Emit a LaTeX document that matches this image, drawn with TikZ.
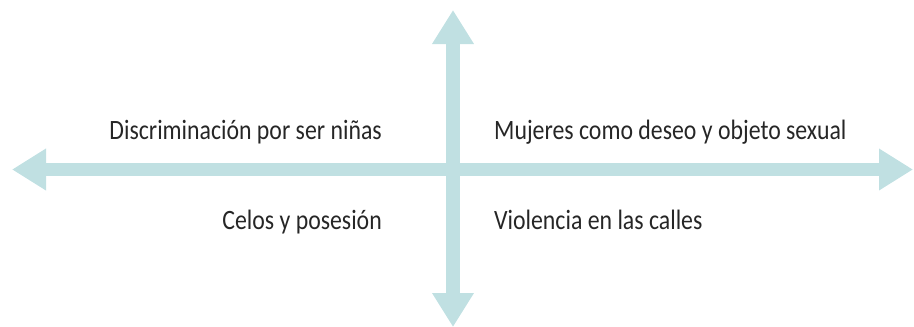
\documentclass[tikz,border=0pt]{standalone}
\usepackage{fontspec}
\setmainfont[FakeStretch=0.85]{Carlito}
\usetikzlibrary{arrows.meta}
\definecolor{axisteal}{RGB}{192,224,226}
\begin{document}
\begin{tikzpicture}[x=1pt, y=-1pt,
        axis/.style={draw=axisteal, line width=13.5pt, {Triangle[length=34pt, width=39.5pt]}-{Triangle[length=34pt, width=39.5pt]}},
        label/.style={font=\fontsize{28}{32}\selectfont, inner sep=0pt, text=black!85}]
        \useasboundingbox (0,0) rectangle (914,327);

        \coordinate (west) at (12,169.5);
        \coordinate (east) at (913,169.5);
        \coordinate (north) at (453,10);
        \coordinate (south) at (453,327);

        \draw[axis] (west) -- (east);
        \draw[axis] (north) -- (south);

        \node[label, anchor=base east] (discr) at (382,139) {Discriminación por ser niñas};
        \node[label, anchor=base west] (deseo) at (494,139) {Mujeres como deseo y objeto sexual};
        \node[label, anchor=base east] (celos) at (382,229) {Celos y posesión};
        \node[label, anchor=base west] (calles) at (494,229) {Violencia en las calles};
    \end{tikzpicture}
\end{document}
